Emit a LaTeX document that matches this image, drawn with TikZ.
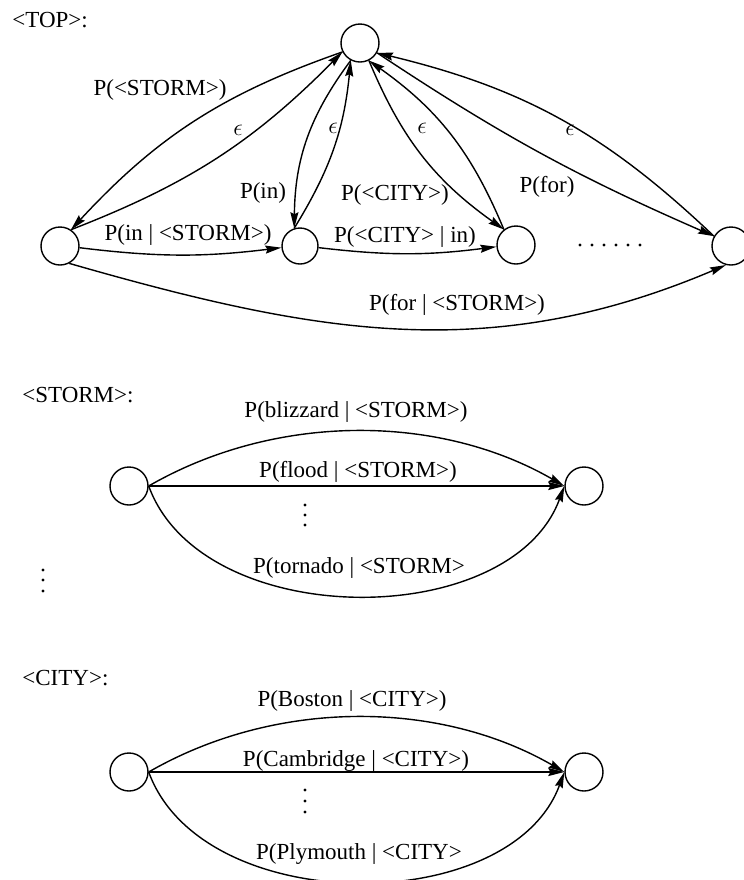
\documentclass[tikz,border=0pt]{standalone}
\usepackage{fontspec}
\setmainfont{Liberation Serif}
\usetikzlibrary{arrows.meta}
\tikzset{
  stnode/.style={draw, circle, minimum size=19pt, inner sep=0pt, line width=0.7pt},
  arc/.style={line width=0.7pt, -{Stealth[length=8pt,width=4pt,inset=1pt]}},
  lbl/.style={inner sep=0pt},
  head/.style={inner sep=0pt, anchor=west}
}
\begin{document}
\begin{tikzpicture}[x=0.5pt,y=0.5pt,font=\fontsize{11.5}{13}\selectfont]
    \useasboundingbox (0,0) rectangle (744,-880);
    % <TOP> network
    \node[head] (toph) at (12,-20) {<TOP>:};
    \node[stnode] (top0) at (360,-43) {};
    \node[stnode] (top1) at (60,-246) {};
    \node[stnode,minimum size=18pt] (top2) at (300,-246) {};
    \node[stnode] (top3) at (516,-245) {};
    \node[stnode] (top4) at (731,-246) {};
    \draw[arc] (top0.207) to[bend right=14] (top1.56);
    \draw[arc] (top1.56) to[bend right=12] (top0.207);
    \draw[arc] (top0.242) to[bend right=18] (top2.108);
    \draw[arc] (top2.108) to[bend right=13] (top0.242);
    \draw[arc] (top0.-63) to[bend right=16] (top3.128);
    \draw[arc] (top3.128) to[bend right=16] (top0.-63);
    \draw[arc] (top0.-30) to[bend right=5] (top4.150);
    \draw[arc] (top4.150) to[bend right=15] (top0.-30);
    \draw[arc] (top1.-5) to[bend right=7] (top2.185);
    \draw[arc] (top2.-5) to[bend right=7] (top3.185);
    \draw[arc] (top1.-62) to[out=-16,in=203] (top4.255);
    \node[lbl] (lstorm) at (160,-90) {P(<STORM>)};
    \node[lbl] (leps1) at (238,-130) {$\epsilon$};
    \node[lbl] (lin) at (263,-193) {P(in)};
    \node[lbl] (leps2) at (333,-128) {$\epsilon$};
    \node[lbl] (lcity) at (395,-195) {P(<CITY>)};
    \node[lbl] (leps3) at (422,-128) {$\epsilon$};
    \node[lbl] (lfor) at (547,-187) {P(for)};
    \node[lbl] (leps4) at (570,-130) {$\epsilon$};
    \node[lbl] (linstorm) at (188,-235) {P(in | <STORM>)};
    \node[lbl] (lcityin) at (405,-237) {P(<CITY> | in)};
    \node[lbl] (lforstorm) at (457,-305) {P(for | <STORM>)};
    \foreach \x in {580,592,...,640}
    \fill (\x,-245) circle (0.8pt);
    % <STORM> network
    \node[head] (stormh) at (22,-395) {<STORM>:};
    \node[stnode] (storm0) at (129,-486) {};
    \node[stnode] (storm1) at (584,-486) {};
    \draw[arc] (storm0.east) to[out=30,in=150,looseness=0.9] (storm1.west);
    \draw[arc] (storm0.east) -- (storm1.west);
    \draw[arc] (storm0.east) to[out=-70,in=-110,looseness=0.96] (storm1.west);
    \node[lbl] (lbliz) at (356,-412) {P(blizzard | <STORM>)};
    \node[lbl,anchor=base] (lflood) at (358,-477) {P(flood | <STORM>)};
    \node[lbl] (ltorn) at (359,-568) {P(tornado | <STORM>};
    \foreach \y in {505,515,525}
    \fill (305,-\y) circle (0.8pt);
    \foreach \y in {570,580,591}
    \fill (43,-\y) circle (0.8pt);
    % <CITY> network
    \node[head] (cityh) at (22,-678) {<CITY>:};
    \node[stnode] (city0) at (129,-772) {};
    \node[stnode] (city1) at (584,-772) {};
    \draw[arc] (city0.east) to[out=30,in=150,looseness=0.9] (city1.west);
    \draw[arc] (city0.east) -- (city1.west);
    \draw[arc] (city0.east) to[out=-70,in=-110,looseness=0.96] (city1.west);
    \node[lbl] (lbost) at (352,-701) {P(Boston | <CITY>)};
    \node[lbl,anchor=base] (lcamb) at (356,-766) {P(Cambridge | <CITY>)};
    \node[lbl] (lplym) at (359,-854) {P(Plymouth | <CITY>};
    \foreach \y in {790,801,812}
    \fill (305,-\y) circle (0.8pt);
\end{tikzpicture}
\end{document}
